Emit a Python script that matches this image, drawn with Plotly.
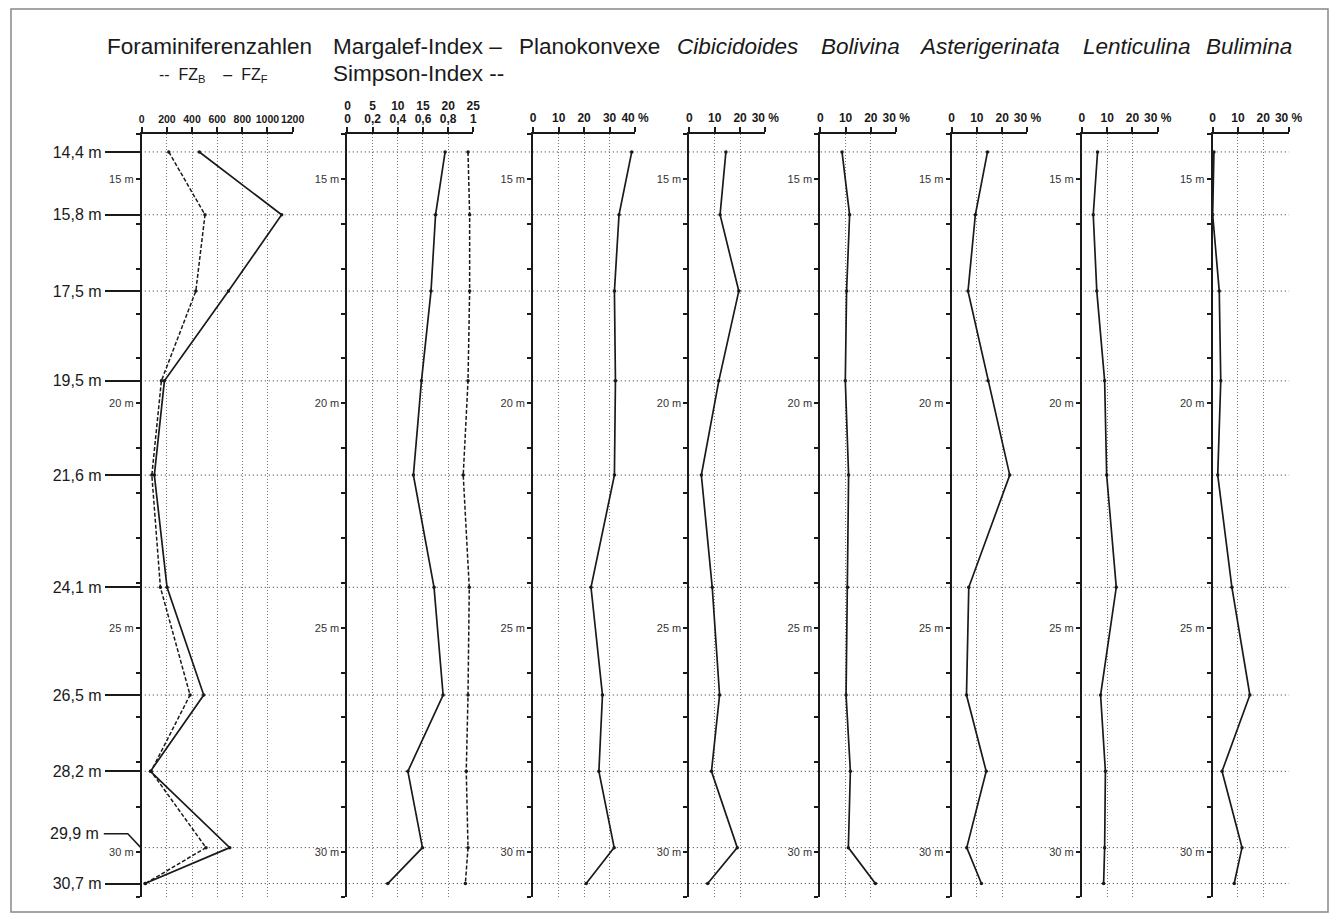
import plotly.graph_objects as go

# ---------------- data ----------------
depths = [14.4, 15.8, 17.5, 19.5, 21.6, 24.1, 26.5, 28.2, 29.9, 30.7]
fz_b = [215, 503, 430, 156, 80, 148, 384, 74, 511, 29]
fz_f = [458, 1113, 690, 180, 100, 201, 493, 69, 700, 26]
margalef = [19.4, 17.5, 16.6, 14.7, 13.1, 17.2, 19.0, 12.0, 14.9, 8.0]
simpson = [0.958, 0.971, 0.971, 0.958, 0.92, 0.968, 0.958, 0.944, 0.958, 0.937]
planokonvexe = [38.7, 33.7, 31.9, 32.3, 31.9, 22.7, 27.2, 25.8, 31.8, 20.8]
cibicidoides = [14.4, 12.1, 19.5, 11.6, 4.7, 9.0, 11.9, 8.7, 18.9, 7.2]
bolivina = [8.6, 11.6, 10.4, 9.9, 11.2, 10.8, 10.2, 11.9, 11.1, 21.8]
asterigerinata = [14.2, 9.4, 6.5, 14.4, 23.0, 6.8, 5.9, 13.7, 6.0, 11.8]
lenticulina = [6.2, 4.5, 5.9, 9.0, 9.8, 13.6, 7.4, 9.3, 9.0, 8.6]
bulimina = [0.5, 0.0, 2.6, 3.2, 2.0, 7.6, 14.7, 3.7, 11.6, 8.5]

fz_ticks = [0, 200, 400, 600, 800, 1000, 1200]
margalef_ticks = [0, 5, 10, 15, 20, 25]
simpson_ticks = [0, 0.2, 0.4, 0.6, 0.8, 1]
simpson_ticktext = ["0", "0,2", "0,4", "0,6", "0,8", "1"]
pct40_ticks = [0, 10, 20, 30, 40]
pct30_ticks = [0, 10, 20, 30]
depth_major = [15, 20, 25, 30]
leader_depth = 29.9

titles = ["Foraminiferenzahlen", "Margalef-Index –", "Planokonvexe",
          "<i>Cibicidoides</i>", "<i>Bolivina</i>", "<i>Asterigerinata</i>",
          "<i>Lenticulina</i>", "<i>Bulimina</i>"]

# ---------------- layout helpers ----------------
REF_W, H = 1330, 918
FIG_W = 1345
def px(x): return x / REF_W
def py(y): return 1 - y / H

Y_TOP, Y_BOT = 134, 897
YDOM = [py(Y_BOT), py(Y_TOP)]
YRANGE = [31, 14]
FONT = "Liberation Sans, Arial, sans-serif"
INK = "#1a1a1a"

def pct_text(ticks):
    t = [str(v) for v in ticks]
    t[-1] = t[-1] + " %"
    return t

panels = [
    dict(l=139, r=290, rng=[0, 1200], tv=fz_ticks, tt=[str(v) for v in fz_ticks], fs=10.5),
    dict(l=345, r=471, rng=[0, 25], tv=margalef_ticks, tt=[str(v) for v in margalef_ticks], fs=12),
    dict(l=531, r=633, rng=[0, 40], tv=pct40_ticks, tt=pct_text(pct40_ticks), fs=12),
    dict(l=687.5, r=763.5, rng=[0, 30], tv=pct30_ticks, tt=pct_text(pct30_ticks), fs=12),
    dict(l=818.5, r=894.5, rng=[0, 30], tv=pct30_ticks, tt=pct_text(pct30_ticks), fs=12),
    dict(l=950, r=1026, rng=[0, 30], tv=pct30_ticks, tt=pct_text(pct30_ticks), fs=12),
    dict(l=1080.5, r=1156.5, rng=[0, 30], tv=pct30_ticks, tt=pct_text(pct30_ticks), fs=12),
    dict(l=1211.5, r=1287.5, rng=[0, 30], tv=pct30_ticks, tt=pct_text(pct30_ticks), fs=12),
]

fig = go.Figure()

solid = dict(color=INK, width=1.7)
dashed = dict(color=INK, width=1.5, dash="4px,2px")
mk = dict(size=3.5, color=INK)

def add(x, xa, ya, line):
    fig.add_trace(go.Scatter(x=x, y=depths, mode="lines+markers", line=line, marker=mk,
                             xaxis=xa, yaxis=ya, showlegend=False, hoverinfo="skip"))

add(fz_b, "x", "y", dashed)
add(fz_f, "x", "y", solid)
add(margalef, "x2", "y2", solid)
add(simpson, "x9", "y2", dashed)
add(planokonvexe, "x3", "y3", solid)
add(cibicidoides, "x4", "y4", solid)
add(bolivina, "x5", "y5", solid)
add(asterigerinata, "x6", "y6", solid)
add(lenticulina, "x7", "y7", solid)
add(bulimina, "x8", "y8", solid)
fig.add_trace(go.Scatter(x=fz_b, y=depths, mode="none", xaxis="x", yaxis="y9",
                         showlegend=False, hoverinfo="skip"))

layout = dict(
    width=FIG_W, height=H, autosize=False, margin=dict(l=0, r=0, t=0, b=0, pad=0),
    paper_bgcolor="white", plot_bgcolor="rgba(0,0,0,0)",
    font=dict(family=FONT, color=INK),
    showlegend=False,
)

for i, p in enumerate(panels, start=1):
    sx = "" if i == 1 else str(i)
    layout["xaxis" + sx] = dict(
        domain=[px(p["l"]), px(p["r"])], range=p["rng"], side="top", anchor="y" + sx,
        tickmode="array", tickvals=p["tv"], ticktext=p["tt"], tickangle=0,
        tickfont=dict(size=p["fs"], family=FONT, color=INK, weight="bold"),
        ticks="outside", ticklen=5, tickwidth=1.5, tickcolor=INK,
        showline=True, linewidth=2, linecolor=INK,
        showgrid=True, griddash="1px,2px", gridcolor="#777", gridwidth=1,
        zeroline=False, fixedrange=True,
        ticklabelstandoff=12 if i == 2 else 0,
    )
    layout["yaxis" + sx] = dict(
        domain=YDOM, range=YRANGE, anchor="x" + sx,
        tickmode="array", tickvals=depth_major, ticktext=[f"{v} m" for v in depth_major],
        tickfont=dict(size=11, family=FONT, color="#333"),
        ticks="outside", ticklen=4, tickwidth=1.5, tickcolor=INK,
        minor=dict(tickmode="linear", tick0=14, dtick=1, ticks="outside", ticklen=4,
                   tickwidth=1.5, tickcolor=INK, showgrid=False),
        showline=True, linewidth=2, linecolor=INK,
        showgrid=False, zeroline=False, fixedrange=True,
    )

layout["xaxis9"] = dict(
    overlaying="x2", side="top", anchor="y2", range=[0, 1],
    tickmode="array", tickvals=simpson_ticks, ticktext=simpson_ticktext, tickangle=0,
    tickfont=dict(size=12, family=FONT, color=INK, weight="bold"),
    ticks="outside", ticklen=5, tickcolor="rgba(0,0,0,0)",
    showline=False, showgrid=False, zeroline=False, fixedrange=True,
)

sample_vals = [d for d in depths if d != leader_depth]
layout["yaxis9"] = dict(
    overlaying="y", anchor="x", side="left", range=YRANGE,
    tickmode="array", tickvals=sample_vals,
    ticktext=[f"{d:.1f}".replace(".", ",") + " m" for d in sample_vals],
    tickfont=dict(size=16, family=FONT, color=INK),
    ticks="outside", ticklen=36, tickwidth=1.5, tickcolor=INK,
    showline=False, showgrid=False, zeroline=False, fixedrange=True,
)

shapes = []
for d in depths:
    shapes.append(dict(type="line", xref="paper", yref="y", x0=px(138), x1=px(1288),
                       y0=d, y1=d, line=dict(color="#333", width=1, dash="1px,3px"), layer="below"))
shapes.append(dict(type="path", xref="paper", yref="y", xsizemode="pixel", ysizemode="pixel",
                   xanchor=px(138), yanchor=leader_depth,
                   path="M -37,14 L -13,14 L 0,0", line=dict(color=INK, width=1.5)))
shapes.append(dict(type="rect", xref="paper", yref="paper", x0=px(8), x1=px(1327),
                   y0=py(912), y1=py(9), line=dict(color="#888", width=1.5)))
layout["shapes"] = shapes

ann = []
title_left = [None, 328, 515, 673, 817, 915, 1080, 1203]
for i, t in enumerate(titles):
    if i == 0:
        ann.append(dict(text=t, x=px(206.5), xanchor="center"))
    else:
        ann.append(dict(text=t, x=px(title_left[i]), xanchor="left"))
for a in ann:
    a.update(xref="paper", yref="paper", y=py(46), yanchor="middle", showarrow=False,
             font=dict(size=22.5, family=FONT, color=INK))
ann.append(dict(text="--  FZ<sub>B</sub>    –  FZ<sub>F</sub>", x=px(211), xanchor="center",
                xref="paper", yref="paper", y=py(75), yanchor="middle", showarrow=False,
                font=dict(size=16, family=FONT, color=INK)))
ann.append(dict(text="Simpson-Index --", x=px(328), xanchor="left",
                xref="paper", yref="paper", y=py(73), yanchor="middle", showarrow=False,
                font=dict(size=22.5, family=FONT, color=INK)))
ann.append(dict(text=f"{leader_depth:.1f}".replace(".", ",") + " m", x=px(138), xshift=-40,
                xanchor="right", xref="paper", yref="y", y=leader_depth, yshift=14,
                yanchor="middle", showarrow=False, font=dict(size=16, family=FONT, color=INK)))
layout["annotations"] = ann

fig.update_layout(**layout)
fig.write_html("out.html", config={"responsive": False})
